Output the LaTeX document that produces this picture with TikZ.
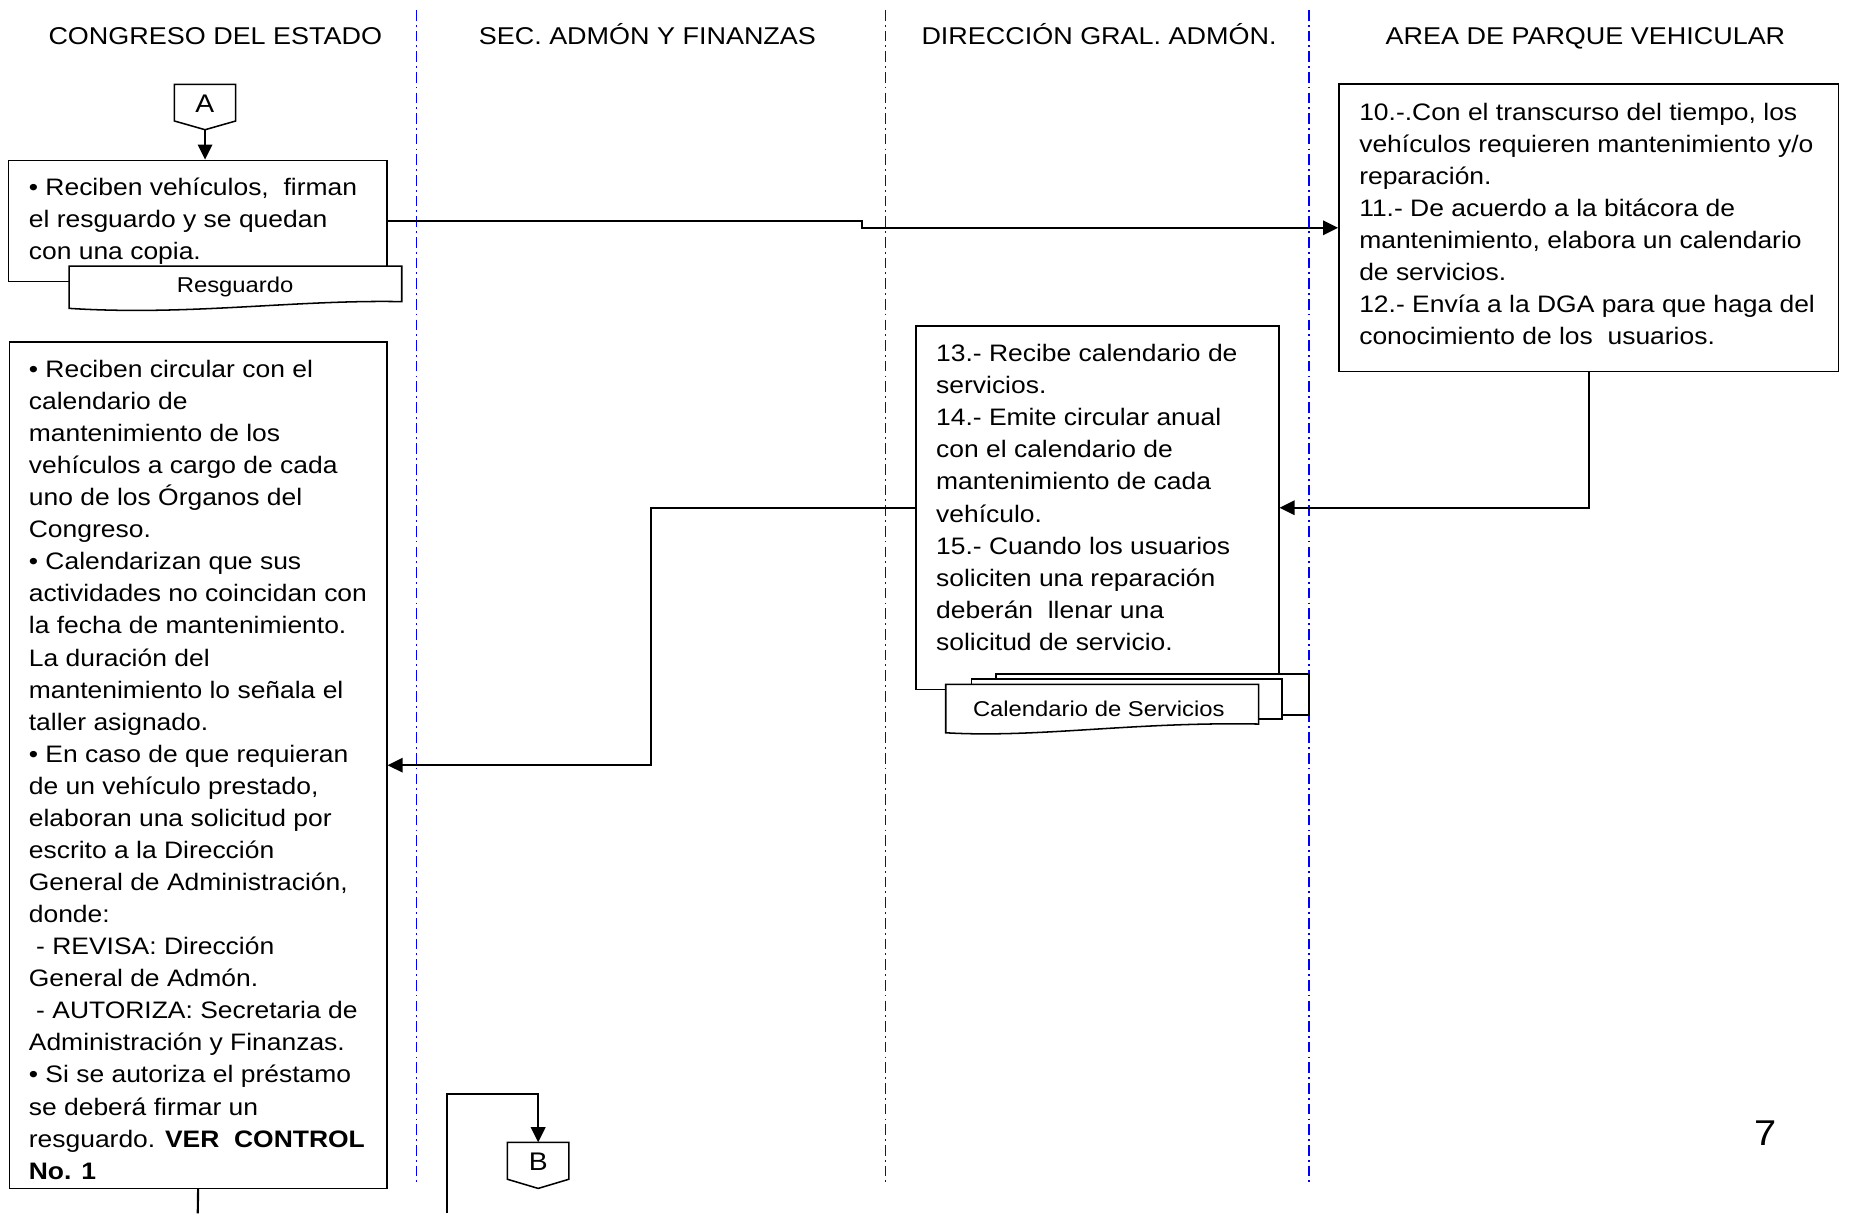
\documentclass[tikz,border=0pt]{standalone}
\usepackage{fontspec}
\setmainfont{Liberation Sans}[FakeStretch=1.11]
\usetikzlibrary{arrows.meta,fit}

\newcommand\bodysize{\fontsize{10.1}{13.6}\selectfont}
\newcommand\docsize{\fontsize{9.1}{11}\selectfont}
\newcommand\headsize{\fontsize{10.3}{12}\selectfont}
\newcommand\connsize{\fontsize{10.8}{12}\selectfont}
\newcommand\linesof[1]{\begin{tabular}[t]{@{}l@{}}#1\end{tabular}}

\begin{document}
\begin{tikzpicture}[x=0.5pt,y=-0.5pt,
  lane/.style={blue, line width=0.7pt, dash pattern=on 4.5pt off 1.75pt on 0.75pt off 1.75pt},
  box/.style={draw, line width=0.65pt, fill=white, inner sep=0pt},
  outline/.style={draw, line width=0.65pt, fill=white},
  txt/.style={inner sep=0pt, anchor=base west, font=\bodysize},
  head/.style={inner sep=0pt, anchor=base, font=\headsize},
  connlabel/.style={inner sep=0pt, anchor=base, font=\connsize},
  doctext/.style={inner sep=0pt, anchor=base, font=\docsize},
  flow/.style={line width=0.9pt, -{Triangle[length=6.4pt,width=6.1pt]}},
  link/.style={line width=0.9pt},
]
\useasboundingbox (0,0) rectangle (1568,1029);

% lane headings
\node[head] (h1) at (182.6,37.6) {CONGRESO DEL ESTADO};
\node[head] (h2) at (549,37.6) {SEC. ADMÓN Y FINANZAS};
\node[head] (h3) at (932,37.6) {DIRECCIÓN GRAL. ADMÓN.};
\node[head] (h4) at (1344.5,37.6) {AREA DE PARQUE VEHICULAR};

% lane separators
\draw[lane] (353.1,8.5) -- (353.1,1005);
\draw[lane] (750.8,8.5) -- (750.8,1005);
\draw[lane] (1110,8.5) -- (1110,1005);

% off-page connector A
\draw[outline] (147.9,71.5) -- (199.9,71.5) -- (199.9,102.6) -- (173.9,110) -- (147.9,102.6) -- cycle;
\node[connlabel] (A) at (173.6,95.6) {A};
\coordinate (Atip) at (173.9,110);

% Congreso: reception of vehicles
\node[box, fit={(7.4,136) (328,238.9)}] (box1) {};
\node[txt] (t1) at (24.1,165.4) {\linesof{%
• Reciben vehículos,~ firman\\
el resguardo y se quedan\\
con una copia.}};
\draw[outline] (58.7,225.6) -- (340.7,225.6) -- (340.7,255.8)
  .. controls (250,254) and (160,268) .. (58.7,261.5) -- cycle;
\node[doctext] (resg) at (199.4,248.2) {Resguardo};

% Area de parque vehicular
\node[box, fit={(1135.4,71.2) (1559,315.2)}] (area) {};
\node[txt] (t4) at (1152.3,101.8) {\linesof{%
10.-.Con el transcurso del tiempo, los\\
vehículos requieren mantenimiento y/o\\
reparación.\\
11.- De acuerdo a la bitácora de\\
mantenimiento, elabora un calendario\\
de servicios.\\
12.- Envía a la DGA para que haga del\\
conocimiento de los~ usuarios.}};

% Direccion general de administracion
\node[box, fit={(776.6,276.5) (1084.4,584.6)}] (dga) {};
\node[txt] (t3) at (793.5,306.7) {\linesof{%
13.- Recibe calendario de\\
servicios.\\
14.- Emite circular anual\\
con el calendario de\\
mantenimiento de cada\\
vehículo.\\
15.- Cuando los usuarios\\
soliciten una reparación\\
deberán~ llenar una\\
solicitud de servicio.}};
\draw[outline] (844.4,571.6) rectangle (1110,606.4);
\draw[outline] (824,575.9) rectangle (1087,609.8);
\draw[outline] (802,580.4) -- (1067.4,580.4) -- (1067.4,614)
  .. controls (960,612) and (880,626) .. (802,621.4) -- cycle;
\node[doctext] (cal) at (931.8,607.8) {Calendario de Servicios};

% Congreso: maintenance calendar and loans
\node[box, fit={(8,290) (328,1007.8)}] (big) {};
\node[txt] (t2) at (24.1,320) {\linesof{%
• Reciben circular con el\\
calendario de\\
mantenimiento de los\\
vehículos a cargo de cada\\
uno de los Órganos del\\
Congreso.\\
• Calendarizan que sus\\
actividades no coincidan con\\
la fecha de mantenimiento.\\
La duración del\\
mantenimiento lo señala el\\
taller asignado.\\
• En caso de que requieran\\
de un vehículo prestado,\\
elaboran una solicitud por\\
escrito a la Dirección\\
General de Administración,\\
donde:\\
\ - REVISA: Dirección\\
General de Admón.\\
\ - AUTORIZA: Secretaria de\\
Administración y Finanzas.\\
• Si se autoriza el préstamo\\
se deberá firmar un\\
resguardo. \textbf{VER~ CONTROL}\\
\textbf{No. 1}}};

% off-page connector B
\draw[outline] (430.2,968.7) -- (482.5,968.7) -- (482.5,1000) -- (456.4,1007.8) -- (430.2,1000) -- cycle;
\node[connlabel] (B) at (456.4,992.8) {B};
\coordinate (Btop) at (456.4,968.7);

% page number
\node[inner sep=0pt, anchor=base, font=\fontsize{15.2}{18}\selectfont] (pg) at (1497,971) {7};

% connectors
\coordinate (step) at (731,190);
\coordinate (turn) at (552,540);
\coordinate (bin) at (379.3,1029);
\coordinate (bturn) at (379.3,928);
\coordinate (bout) at (167.7,1029);

\draw[flow] (Atip) -- (Atip |- box1.north);
\draw[flow] (box1.east) -| (step) |- (area.west);
\draw[flow] (area.south) |- (dga.east);
\draw[flow] (dga.west) -| (turn) |- (big.east);
\draw[link] (big.south) -- (bout);
\draw[flow] (bin) -- (bturn) -| (Btop);
\end{tikzpicture}
\end{document}
